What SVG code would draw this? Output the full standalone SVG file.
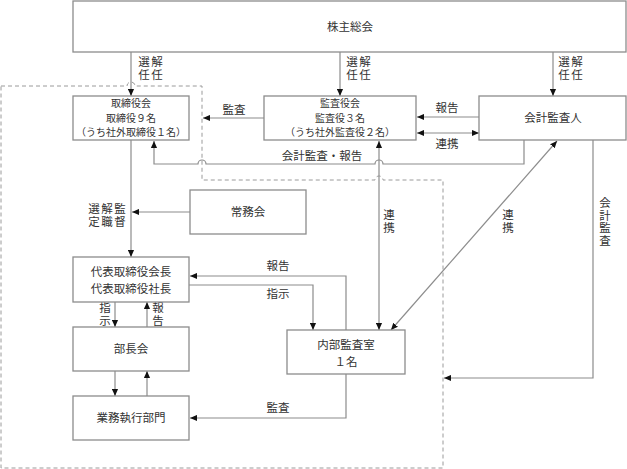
<svg xmlns="http://www.w3.org/2000/svg" width="627" height="469" viewBox="0 0 627 469">
<style>
.box{fill:#fff;stroke:#8c8c8c;stroke-width:1.3}
.ln{fill:none;stroke:#8c8c8c;stroke-width:1.2}
.dash{fill:none;stroke:#9a9a9a;stroke-width:1;stroke-dasharray:4 3}
text{font-family:"Noto Sans CJK JP","Noto Sans CJK SC",sans-serif;font-size:11.5px;fill:#333}
.c{text-anchor:middle}
.t{font-size:10px}
.v{writing-mode:vertical-rl;letter-spacing:1px}
</style>
<defs>
<marker id="ah" viewBox="0 0 8 8" refX="8" refY="4" markerWidth="7" markerHeight="7" orient="auto-start-reverse" markerUnits="userSpaceOnUse">
<path d="M0,0.5 L8,4 L0,7.5 z" fill="#111"/>
</marker>
</defs>

<g id="connectors">
<path class="dash" d="M1,86 H127 A4,4 0 0 1 135,86 H202 V180 H375 A4,4 0 0 1 383,180 H443 V468 H1 Z"/>
<line class="ln" x1="131" y1="52" x2="131" y2="96" marker-end="url(#ah)"/>
<line class="ln" x1="340" y1="52" x2="340" y2="96" marker-end="url(#ah)"/>
<line class="ln" x1="553" y1="52" x2="553" y2="96" marker-end="url(#ah)"/>
<line class="ln" x1="264" y1="118" x2="203" y2="118" marker-end="url(#ah)"/>
<line class="ln" x1="479" y1="117" x2="417" y2="117" marker-end="url(#ah)"/>
<line class="ln" x1="417" y1="133" x2="479" y2="133" marker-start="url(#ah)" marker-end="url(#ah)"/>
<path class="ln" d="M524,140 V164 H383 A4,4 0 0 0 375,164 H206 A4,4 0 0 0 198,164 H154 V141" marker-end="url(#ah)"/>
<line class="ln" x1="379" y1="141" x2="379" y2="330" marker-start="url(#ah)" marker-end="url(#ah)"/>
<line class="ln" x1="557" y1="141" x2="391" y2="330" marker-start="url(#ah)" marker-end="url(#ah)"/>
<path class="ln" d="M593,140 V378 H444" marker-end="url(#ah)"/>
<line class="ln" x1="190" y1="212" x2="132" y2="212" marker-end="url(#ah)"/>
<line class="ln" x1="131" y1="140" x2="131" y2="257" marker-end="url(#ah)"/>
<path class="ln" d="M346,330 V276 H190" marker-end="url(#ah)"/>
<path class="ln" d="M189,285 H313 V330" marker-end="url(#ah)"/>
<line class="ln" x1="115" y1="302" x2="115" y2="327" marker-end="url(#ah)"/>
<line class="ln" x1="147" y1="327" x2="147" y2="302" marker-end="url(#ah)"/>
<line class="ln" x1="115" y1="371" x2="115" y2="396" marker-end="url(#ah)"/>
<line class="ln" x1="147" y1="396" x2="147" y2="371" marker-end="url(#ah)"/>
<path class="ln" d="M346,374 V418 H190" marker-end="url(#ah)"/>

<text class="v" x="144" y="56">選任</text>
<text class="v" x="157" y="56">解任</text>
<text class="v" x="352" y="56">選任</text>
<text class="v" x="365" y="56">解任</text>
<text class="v" x="564" y="56">選任</text>
<text class="v" x="577" y="56">解任</text>
<text class="c" x="234" y="114">監査</text>
<text class="c" x="447" y="112">報告</text>
<text class="c" x="447" y="148">連携</text>
<text class="c" x="322" y="160">会計監査・報告</text>
<text class="v" x="94" y="203">選定</text>
<text class="v" x="107" y="203">解職</text>
<text class="v" x="120" y="203">監督</text>
<text class="v" x="389" y="209">連携</text>
<text class="v" x="508" y="209">連携</text>
<text class="v" x="605" y="197">会計監査</text>
<text class="c" x="278" y="270">報告</text>
<text class="c" x="278" y="298">指示</text>
<text class="v" x="105" y="302">指示</text>
<text class="v" x="158" y="302">報告</text>
<text class="c" x="278" y="412">監査</text>
</g>

<g id="shareholders">
<rect class="box" x="73" y="1" width="553" height="51"/>
<text class="c" x="350" y="31">株主総会</text>
</g>
<g id="board">
<rect class="box" x="73" y="96" width="116" height="44"/>
<text class="c t" x="131" y="107">取締役会<tspan x="131" dy="14.5">取締役９名</tspan><tspan x="131" dy="14.5">（うち社外取締役１名）</tspan></text>
</g>
<g id="auditors">
<rect class="box" x="264" y="96" width="152" height="44"/>
<text class="c t" x="340" y="107">監査役会<tspan x="340" dy="14.5">監査役３名</tspan><tspan x="340" dy="14.5">（うち社外監査役２名）</tspan></text>
</g>
<g id="accounting-auditor">
<rect class="box" x="479" y="96" width="147" height="44"/>
<text class="c" x="553" y="122">会計監査人</text>
</g>
<g id="jomukai">
<rect class="box" x="190" y="190" width="116" height="44"/>
<text class="c" x="248" y="216">常務会</text>
</g>
<g id="representatives">
<rect class="box" x="73" y="257" width="116" height="45"/>
<text class="c" x="131" y="276">代表取締役会長<tspan x="131" dy="16.5">代表取締役社長</tspan></text>
</g>
<g id="internal-audit">
<rect class="box" x="287" y="330" width="118" height="44"/>
<text class="c" x="346" y="349">内部監査室<tspan x="346" dy="16.5">１名</tspan></text>
</g>
<g id="bucho">
<rect class="box" x="73" y="327" width="116" height="44"/>
<text class="c" x="131" y="353">部長会</text>
</g>
<g id="gyomu">
<rect class="box" x="73" y="396" width="116" height="44"/>
<text class="c" x="131" y="422">業務執行部門</text>
</g>
</svg>
